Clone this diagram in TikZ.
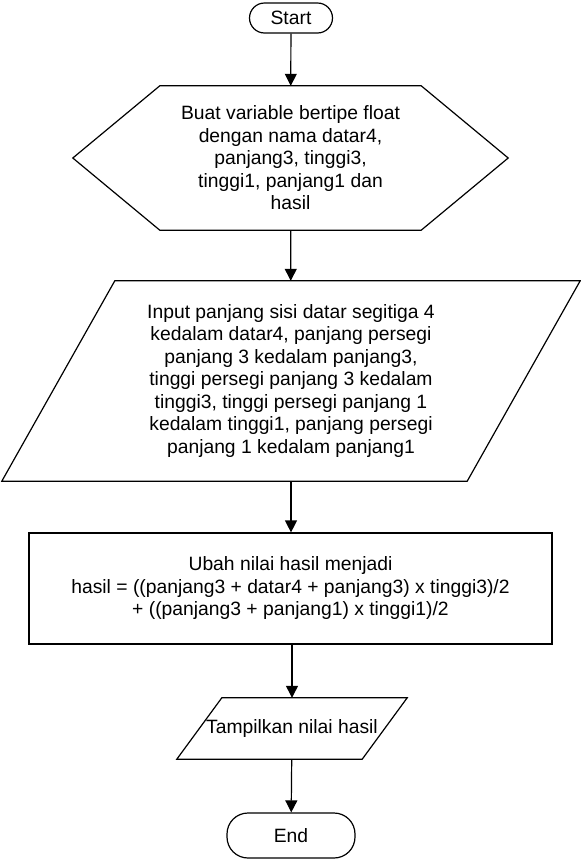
\documentclass[tikz,border=0pt]{standalone}
\usepackage{fontspec}
\setmainfont{Liberation Sans}
\usetikzlibrary{arrows.meta}

\begin{document}
\begin{tikzpicture}[x=1pt, y=-1pt,
    every node/.style={font=\fontsize{19.3pt}{22.5pt}\selectfont, align=center, inner sep=0pt},
    terminal/.style={draw, line width=1.2pt, rounded corners=15pt},
    box/.style={minimum width=#1},
    outline/.style={draw, line width=1.2pt, line join=miter},
    arr/.style={line width=1.2pt, -{Triangle[width=12pt, length=12pt]}}]
  \useasboundingbox (0, 0) rectangle (581, 860);

  % start and end
  \node[terminal, minimum width=83pt, minimum height=30pt] (start) at (291, 18) {Start};
  \node[terminal, minimum width=128pt, minimum height=45pt, rounded corners=21pt] (stop) at (291, 835.5) {End};

  % declaration (hexagon)
  \node[box=435pt, minimum height=144pt] (decl) at (290.5, 158)
    {Buat variable bertipe float\\dengan nama datar4,\\panjang3, tinggi3,\\tinggi1, panjang1 dan\\hasil};
  \draw[outline] (decl.west) -- ([xshift=87pt]decl.north west) -- ([xshift=-87pt]decl.north east)
    -- (decl.east) -- ([xshift=-87pt]decl.south east) -- ([xshift=87pt]decl.south west) -- cycle;

  % input (parallelogram)
  \node[box=578pt, minimum height=200pt] (inp) at (291, 381)
    {Input panjang sisi datar segitiga 4\\kedalam datar4, panjang persegi\\panjang 3 kedalam panjang3,\\tinggi persegi panjang 3 kedalam\\tinggi3, tinggi persegi panjang 1\\kedalam tinggi1, panjang persegi\\panjang 1 kedalam panjang1};
  \draw[outline] ([xshift=113pt]inp.north west) -- (inp.north east)
    -- ([xshift=-113pt]inp.south east) -- (inp.south west) -- cycle;

  % process
  \node[outline, box=523pt, minimum height=111pt] (proc) at (290.5, 588.5)
    {Ubah nilai hasil menjadi\\hasil = ((panjang3 + datar4 + panjang3) x tinggi3)/2\\+ ((panjang3 + panjang1) x tinggi1)/2};

  % output (parallelogram)
  \node[box=230pt, minimum height=61pt] (out) at (292, 728.5) {Tampilkan nilai hasil};
  \draw[outline] ([xshift=45pt]out.north west) -- (out.north east)
    -- ([xshift=-45pt]out.south east) -- (out.south west) -- cycle;

  \draw[arr] (start) -- (decl);
  \draw[arr] (decl) -- (inp);
  \draw[arr] (inp) -- (inp |- proc.north);
  \draw[arr] (proc.south -| out) -- (out);
  \draw[arr] (out) -- (stop);
\end{tikzpicture}
\end{document}
